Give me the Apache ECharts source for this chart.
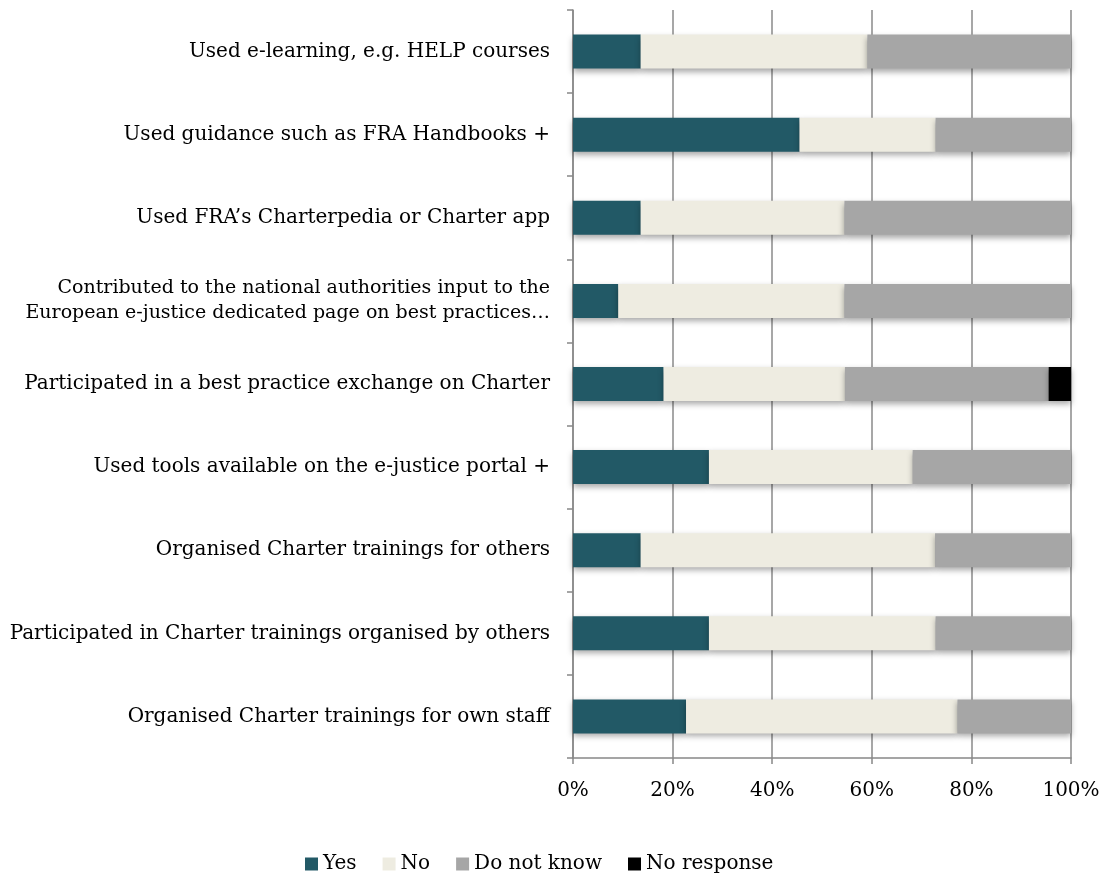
<!DOCTYPE html>
<html>
<head>
<meta charset="utf-8">
<script src="https://cdn.jsdelivr.net/npm/echarts@6/dist/echarts.min.js"></script>
<style>
  html, body { margin: 0; padding: 0; background: #fff; }
  #main { width: 1107px; height: 882px; }
</style>
</head>
<body>
<div id="main"></div>
<script>
// categories, top to bottom
var categories = [
    'Used e-learning, e.g. HELP courses',
    'Used guidance such as FRA Handbooks +',
    'Used FRA\u2019s Charterpedia or Charter app',
    'Contributed to the national authorities input to the\nEuropean e-justice dedicated page on best practices\u2026',
    'Participated in a best practice exchange on Charter',
    'Used tools available on the e-justice portal +',
    'Organised Charter trainings for others',
    'Participated in Charter trainings organised by others',
    'Organised Charter trainings for own staff'
];
var yesData = [13.6, 45.5, 13.6, 9.1, 18.2, 27.3, 13.6, 27.3, 22.7];
var noData = [45.5, 27.3, 40.9, 45.4, 36.4, 40.9, 59.1, 45.5, 54.5];
var dnkData = [40.9, 27.2, 45.5, 45.5, 40.9, 31.8, 27.3, 27.2, 22.8];
var nrData = [0, 0, 0, 0, 4.5, 0, 0, 0, 0];
var xTicks = [0, 20, 40, 60, 80, 100];

var font = '"DejaVu Serif", "Liberation Serif", serif';
var myChart = echarts.init(document.getElementById('main'));

// the two-line label is a bit smaller so it fits on the left
var yCats = categories.map(function (c) {
    if (c.indexOf('\n') >= 0) {
        return { value: c, textStyle: { fontSize: 19 } };
    }
    return c;
});

function bar(name, data, color) {
    return {
        name: name,
        type: 'bar',
        stack: 'total',
        barWidth: 34,
        itemStyle: {
            color: color,
            shadowColor: 'rgba(0,0,0,0.35)',
            shadowBlur: 6,
            shadowOffsetY: 3
        },
        data: data
    };
}

var option = {
    textStyle: { fontFamily: font },
    animation: false,
    grid: { left: 573, right: 36, top: 10, bottom: 124, outerBoundsMode: 'none', containLabel: false },
    legend: {
        bottom: 3,
        left: 300,
        itemWidth: 13,
        itemHeight: 13,
        itemGap: 26,
        itemTextGap: 6,
        icon: 'rect',
        textStyle: { fontFamily: font, fontSize: 20, color: '#000' },
        data: ['Yes', 'No', 'Do not know', 'No response']
    },
    xAxis: {
        type: 'value',
        min: 0,
        max: 100,
        interval: 20,
        axisLine: { show: true, lineStyle: { color: '#888', width: 1.5 } },
        axisTick: { show: true, length: 6, lineStyle: { color: '#888', width: 1.5 } },
        splitLine: { show: true, lineStyle: { color: '#8a8a8a', width: 1.5 } },
        axisLabel: {
            margin: 23,
            fontSize: 20,
            color: '#000',
            fontFamily: font,
            customValues: xTicks,
            formatter: '{value}%'
        }
    },
    yAxis: {
        type: 'category',
        inverse: true,
        data: yCats,
        axisLine: { show: true, lineStyle: { color: '#888', width: 1.5 } },
        axisTick: { show: true, length: 6, lineStyle: { color: '#888', width: 1.5 } },
        axisLabel: {
            margin: 23,
            fontSize: 20,
            lineHeight: 25,
            color: '#000',
            fontFamily: font,
            align: 'right'
        }
    },
    series: [
        bar('Yes', yesData, '#225966'),
        bar('No', noData, '#EEECE1'),
        bar('Do not know', dnkData, '#A6A6A6'),
        bar('No response', nrData, '#000000')
    ]
};
myChart.setOption(option);
</script>
</body>
</html>
